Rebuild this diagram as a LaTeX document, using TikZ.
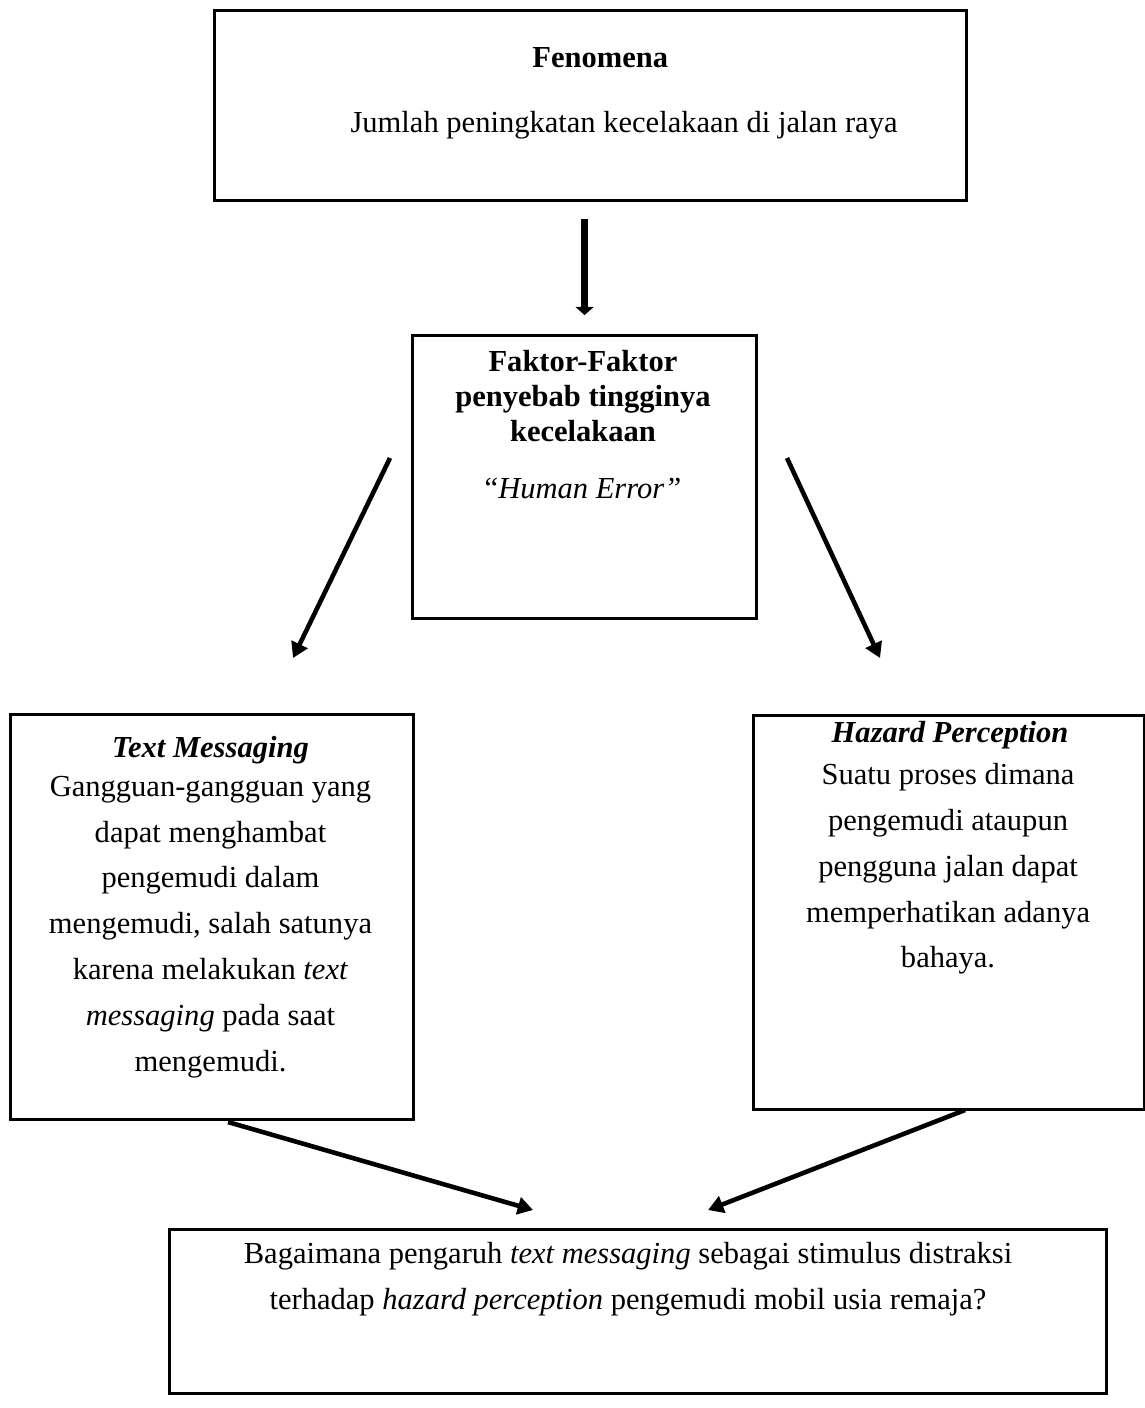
\documentclass[tikz,border=0pt]{standalone}
\usepackage{fontspec}
\setmainfont{Liberation Serif}
\usepackage{tikz}
\usetikzlibrary{arrows.meta,positioning,calc}

\begin{document}
\begin{tikzpicture}[
  font=\fontsize{12}{13.8}\selectfont,
  x=1cm, y=1cm,
  box/.style={draw=black, line width=1.2pt, anchor=north west, inner sep=0pt},
  head/.style={font=\fontsize{12}{13.8}\selectfont\bfseries, align=center, inner sep=0pt},
  body/.style={font=\fontsize{12}{18}\selectfont, align=center, inner sep=0pt},
  ar/.style={-{Triangle[length=6pt,width=6.8pt]}, line width=1.8pt},
  bigar/.style={-{Triangle[length=3.2pt,width=7pt]}, line width=2.9pt},
]
\useasboundingbox (0,0) rectangle (15.812,-19.444);

% ---------------- phenomenon ----------------
\node[box, minimum width=10.385cm, minimum height=2.624cm] (fen) at (2.94,-0.12) {};
\node[head] (fentitle) at (8.29,-0.79) {Fenomena};
\node[body, anchor=west] (fentext) at (4.834,-1.726) {Jumlah peningkatan kecelakaan di jalan raya};

% ---------------- causes ----------------
\node[box, minimum width=4.751cm, minimum height=3.908cm] (mid) at (5.676,-4.613) {};
\node[head, anchor=north] (midtitle) at (8.051,-4.834) {Faktor-Faktor\\penyebab tingginya\\kecelakaan};
\node[body] (midtext) at (8.051,-6.75) {``\textit{Human Error''}};

\draw[bigar, shorten <=0.235cm, shorten >=0.262cm] (mid.north |- fen.south) -- (mid.north);

% ---------------- the two variables ----------------
\node[box, minimum width=5.565cm, minimum height=5.593cm] (txt) at (0.124,-9.847) {};
\node[head, font=\fontsize{12}{13.8}\selectfont\bfseries\itshape] (txttitle) at (2.907,-10.358) {Text Messaging};
\node[body] (txtbody) at (2.907,-12.80) {Gangguan-gangguan yang\\dapat menghambat\\pengemudi dalam\\mengemudi, salah satunya\\karena melakukan \textit{text}\\\textit{messaging} pada saat\\mengemudi.};

\node[box, minimum width=5.400cm, minimum height=5.441cm] (haz) at (10.385,-9.860) {};
\node[head, font=\fontsize{12}{13.8}\selectfont\bfseries\itshape] (haztitle) at (13.12,-10.15) {Hazard Perception};
\node[body] (hazbody) at (13.092,-12.0) {Suatu proses dimana\\pengemudi ataupun\\pengguna jalan dapat\\memperhatikan adanya\\bahaya.};

\coordinate (midL) at (5.386,-6.325);
\coordinate (midR) at (10.868,-6.325);
\coordinate (txtTop) at (4.046,-9.087);
\coordinate (hazTop) at (12.153,-9.087);
\draw[ar] (midL) -- (txtTop);
\draw[ar] (midR) -- (hazTop);

% ---------------- research question ----------------
\node[box, minimum width=12.940cm, minimum height=2.265cm] (quest) at (2.320,-16.959) {};
\node[body] (questtext) at (8.673,-17.663) {Bagaimana pengaruh \textit{text messaging} sebagai stimulus distraksi\\terhadap \textit{hazard perception} pengemudi mobil usia remaja?};

\coordinate (txtBot) at (3.149,-15.495);
\coordinate (hazBot) at (13.327,-15.329);
\coordinate (questL) at (7.361,-16.710);
\coordinate (questR) at (9.778,-16.710);
\draw[ar] (txtBot) -- (questL);
\draw[ar] (hazBot) -- (questR);

\end{tikzpicture}
\end{document}
